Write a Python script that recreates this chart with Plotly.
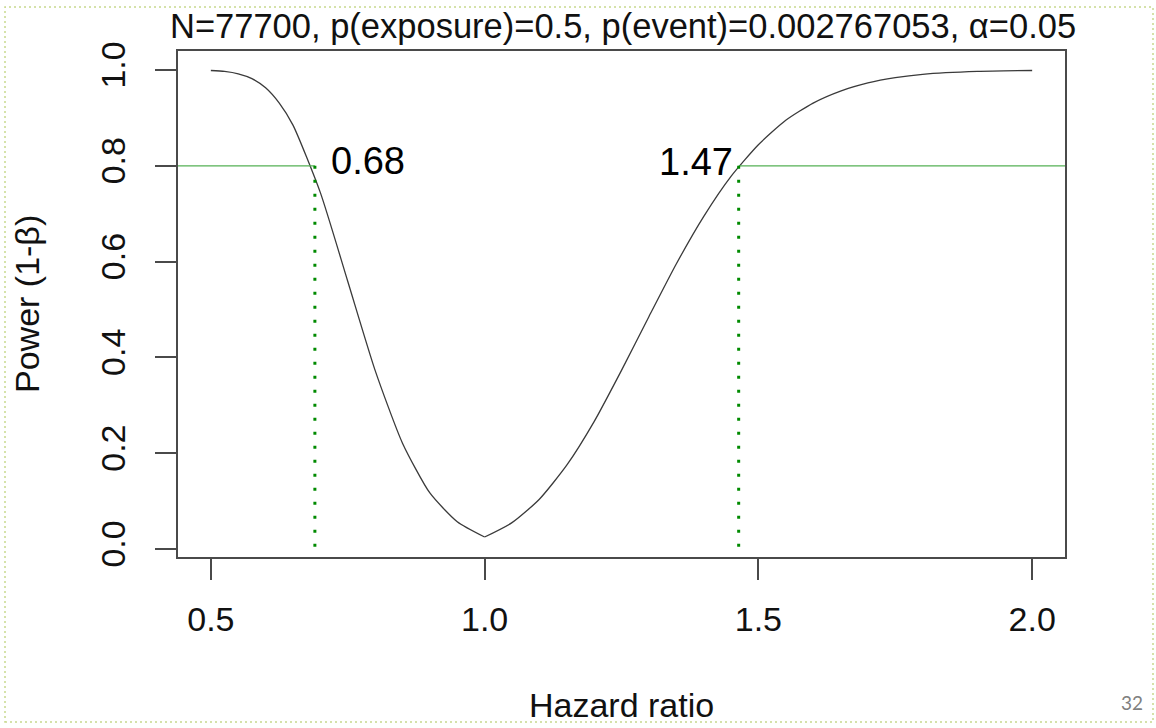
import plotly.graph_objects as go

# ---- data ----
hr_left = [0.50, 0.525, 0.55, 0.575, 0.60, 0.625, 0.65, 0.70, 0.75, 0.80, 0.85, 0.90, 0.95, 1.00]
power_left = [0.999, 0.997, 0.992, 0.982, 0.963, 0.931, 0.885, 0.744, 0.559, 0.373, 0.221,
              0.117, 0.057, 0.025]
hr_right = [1.00, 1.05, 1.10, 1.15, 1.20, 1.25, 1.30, 1.35, 1.40, 1.45, 1.50, 1.55,
            1.60, 1.65, 1.70, 1.75, 1.80, 1.90, 2.00]
power_right = [0.025, 0.055, 0.104, 0.175, 0.266, 0.373, 0.485, 0.595, 0.694, 0.778,
               0.844, 0.895, 0.931, 0.956, 0.973, 0.984, 0.991, 0.997, 0.999]

target_power = 0.8
hr_low = 0.69
hr_high = 1.464
hr_low_label = "0.68"
hr_high_label = "1.47"

x_range = [0.44, 2.06]
y_range = [-0.0167, 1.0397]
x_ticks = [0.5, 1.0, 1.5, 2.0]
x_tick_text = ["0.5", "1.0", "1.5", "2.0"]
y_ticks = [0.0, 0.2, 0.4, 0.6, 0.8, 1.0]
y_tick_text = ["0.0", "0.2", "0.4", "0.6", "0.8", "1.0"]

title_text = "N=77700, p(exposure)=0.5, p(event)=0.002767053, α=0.05"
x_title = "Hazard ratio"
y_title = "Power (1-β)"
page_number = "32"

# ---- layout constants (pixels) ----
W, H = 1156, 728
L, R, T, B = 178, 1156 - 1065, 51, 728 - 557
PW, PH = W - L - R, H - T - B


def px_x(px):
    return (px - L) / PW


def px_y(py):
    return (H - B - py) / PH


FONT = "Liberation Sans, Arial, Helvetica, sans-serif"
AX = "#4a4a4a"
CURVE = "#3a3a3a"
GREEN_LINE = "#55b055"
GREEN_DOT = "#008a00"

fig = go.Figure()

# power curve (two branches keep the cusp at HR=1)
for xs, ys in ((hr_left, power_left), (hr_right, power_right)):
    fig.add_trace(go.Scatter(x=xs, y=ys, mode="lines",
                             line=dict(color=CURVE, width=1.3, shape="spline", smoothing=0.6),
                             hoverinfo="skip", showlegend=False))

# horizontal 0.8 segments
fig.add_trace(go.Scatter(x=[x_range[0], hr_low], y=[target_power, target_power], mode="lines",
                         line=dict(color=GREEN_LINE, width=1.2), showlegend=False, hoverinfo="skip"))
fig.add_trace(go.Scatter(x=[hr_high, x_range[1]], y=[target_power, target_power], mode="lines",
                         line=dict(color=GREEN_LINE, width=1.2), showlegend=False, hoverinfo="skip"))

# vertical dotted lines
for hv in (hr_low, hr_high):
    fig.add_trace(go.Scatter(x=[hv, hv], y=[target_power, 0.0], mode="lines",
                             line=dict(color=GREEN_DOT, width=3, dash="3px,11px"),
                             showlegend=False, hoverinfo="skip"))

annotations = [
    dict(text=hr_low_label, x=hr_low, y=target_power, xref="x", yref="y",
         xanchor="left", yanchor="middle", xshift=14, yshift=5, showarrow=False,
         font=dict(family=FONT, size=38, color="#000")),
    dict(text=hr_high_label, x=hr_high, y=target_power, xref="x", yref="y",
         xanchor="right", yanchor="middle", xshift=-4, yshift=4, showarrow=False,
         font=dict(family=FONT, size=38, color="#000")),
    dict(text=title_text, x=px_x(623), y=px_y(26), xref="paper", yref="paper",
         xanchor="center", yanchor="middle", showarrow=False,
         font=dict(family=FONT, size=34.5, color="#111")),
    dict(text=x_title, x=0.5, y=px_y(705), xref="paper", yref="paper",
         xanchor="center", yanchor="middle", showarrow=False,
         font=dict(family=FONT, size=34, color="#111")),
    dict(text=y_title, x=px_x(27), y=0.5, xref="paper", yref="paper", textangle=-90,
         xanchor="center", yanchor="middle", showarrow=False,
         font=dict(family=FONT, size=34, color="#111")),
    dict(text=page_number, x=px_x(1132), y=px_y(702), xref="paper", yref="paper",
         xanchor="center", yanchor="middle", showarrow=False,
         font=dict(family="Lato, Open Sans, sans-serif", size=19, color="#808080")),
]

shapes = [
    dict(type="rect", xref="paper", yref="paper",
         x0=px_x(5), x1=px_x(1153), y0=px_y(722), y1=px_y(7),
         line=dict(color="#c8d98e", width=1.5, dash="2px,3px"), fillcolor="rgba(0,0,0,0)",
         layer="below"),
]

fig.update_layout(
    width=W, height=H, autosize=False,
    margin=dict(l=L, r=R, t=T, b=B, pad=0),
    paper_bgcolor="white", plot_bgcolor="white",
    showlegend=False,
    annotations=annotations,
    shapes=shapes,
    font=dict(family=FONT, color="#111"),
)

fig.update_xaxes(range=x_range, tickvals=x_ticks, ticktext=x_tick_text,
                 showgrid=False, zeroline=False, showline=True, mirror=True,
                 linecolor=AX, linewidth=1.6, ticks="outside", ticklen=21,
                 tickwidth=1.6, tickcolor=AX, ticklabelstandoff=10,
                 tickfont=dict(family=FONT, size=34, color="#111"), automargin=False)
fig.update_yaxes(range=y_range, tickvals=y_ticks, ticktext=y_tick_text,
                 showgrid=False, zeroline=False, showline=True, mirror=True,
                 linecolor=AX, linewidth=1.6, ticks="outside", ticklen=21,
                 tickwidth=1.6, tickcolor=AX, tickangle=-90, ticklabelstandoff=17,
                 tickfont=dict(family=FONT, size=34, color="#111"), automargin=False)

fig.write_html(
    "out.html",
    config={"displayModeBar": False},
    post_script="document.documentElement.style.margin='0';"
                "document.body.style.margin='0';document.body.style.padding='0';"
                "document.body.style.overflow='hidden';",
)
